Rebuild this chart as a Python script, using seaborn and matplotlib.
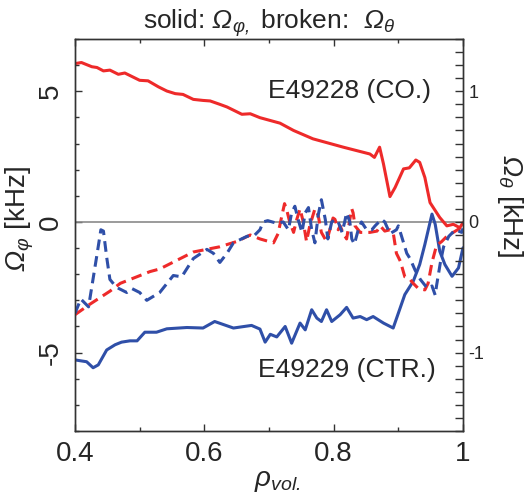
import numpy as np
import pandas as pd
import seaborn as sns
import matplotlib.pyplot as plt

# rho_vol and rotation profiles
# solid lines: toroidal rotation Omega_phi [kHz] (left axis)
x_co_phi = [0.400, 0.410, 0.426, 0.434, 0.444, 0.454, 0.467, 0.477, 0.500, 0.513,
            0.529, 0.542, 0.555, 0.567, 0.583, 0.598, 0.609, 0.624, 0.635, 0.658,
            0.671, 0.686, 0.717, 0.738, 0.768, 0.815, 0.856, 0.863, 0.871, 0.877,
            0.887, 0.895, 0.908, 0.917, 0.927, 0.933, 0.941, 0.949, 0.964, 0.975,
            0.985, 0.995, 1.000]
co_phi = [6.06, 6.10, 5.94, 5.91, 5.78, 5.81, 5.65, 5.70, 5.42, 5.40,
          5.17, 5.01, 4.91, 4.88, 4.69, 4.65, 4.63, 4.50, 4.40, 4.12,
          4.14, 3.99, 3.78, 3.50, 3.18, 2.86, 2.60, 2.47, 2.86, 2.22,
          0.97, 1.32, 2.03, 2.07, 2.37, 2.28, 1.70, 0.74, 0.17, -0.15,
          -0.09, -0.22, -0.03]

x_ctr_phi = [0.400, 0.418, 0.428, 0.436, 0.449, 0.462, 0.472, 0.485, 0.496, 0.508,
             0.526, 0.542, 0.573, 0.598, 0.616, 0.645, 0.673, 0.686, 0.694, 0.702,
             0.712, 0.725, 0.735, 0.748, 0.756, 0.766, 0.774, 0.781, 0.789, 0.797,
             0.810, 0.820, 0.830, 0.841, 0.851, 0.861, 0.877, 0.892, 0.910, 0.923,
             0.933, 0.941, 0.952, 0.957, 0.964, 0.972, 0.983, 0.993, 1.000]
ctr_phi = [-5.28, -5.35, -5.58, -5.47, -4.90, -4.70, -4.60, -4.55, -4.55, -4.22,
           -4.22, -4.09, -4.04, -4.06, -3.81, -4.06, -3.96, -4.10, -4.60, -4.30,
           -4.40, -4.00, -4.64, -3.87, -4.13, -3.36, -3.68, -3.81, -3.36, -3.81,
           -3.55, -3.27, -3.68, -3.62, -3.74, -3.62, -3.87, -4.06, -2.78, -2.27,
           -1.63, -0.86, 0.30, -0.09, -1.12, -1.63, -2.08, -1.76, -0.99]

# broken lines: poloidal rotation Omega_theta [kHz] (right axis)
x_co_theta = [0.400, 0.423, 0.454, 0.470, 0.516, 0.531, 0.583, 0.624, 0.650, 0.671,
              0.686, 0.707, 0.714, 0.720, 0.724, 0.727, 0.732, 0.738, 0.743, 0.748,
              0.753, 0.758, 0.763, 0.771, 0.776, 0.781, 0.789, 0.794, 0.799, 0.802,
              0.807, 0.810, 0.815, 0.820, 0.825, 0.828, 0.830, 0.833, 0.841, 0.856,
              0.867, 0.872, 0.879, 0.887, 0.892, 0.897, 0.903, 0.910, 0.918, 0.923,
              0.931, 0.941, 0.946, 0.952, 0.959, 0.967, 0.975, 0.985, 0.998, 1.000]
co_theta = [-0.71, -0.63, -0.53, -0.47, -0.38, -0.36, -0.23, -0.19, -0.15, -0.10,
            -0.13, -0.16, -0.09, 0.05, 0.14, 0.10, 0.00, -0.08, 0.02, 0.10,
            0.00, -0.15, -0.03, 0.10, 0.05, -0.08, -0.15, -0.06, 0.03, 0.02,
            -0.06, -0.03, -0.09, -0.13, 0.02, 0.10, 0.07, -0.03, -0.08, -0.08,
            -0.07, -0.03, -0.07, -0.06, -0.08, -0.24, -0.30, -0.42, -0.44, -0.47,
            -0.51, -0.52, -0.47, -0.31, -0.18, -0.15, -0.11, -0.08, -0.04, -0.03]

x_ctr_theta = [0.400, 0.409, 0.421, 0.434, 0.440, 0.444, 0.449, 0.454, 0.464, 0.480,
               0.488, 0.500, 0.511, 0.531, 0.552, 0.565, 0.583, 0.604, 0.614, 0.624,
               0.635, 0.645, 0.666, 0.678, 0.686, 0.691, 0.698, 0.705, 0.712, 0.722,
               0.730, 0.735, 0.740, 0.745, 0.751, 0.756, 0.761, 0.766, 0.771, 0.776,
               0.781, 0.787, 0.791, 0.797, 0.802, 0.807, 0.813, 0.817, 0.820, 0.825,
               0.828, 0.832, 0.838, 0.843, 0.851, 0.859, 0.864, 0.874, 0.879, 0.887,
               0.897, 0.900, 0.905, 0.913, 0.918, 0.926, 0.934, 0.942, 0.947, 0.952,
               0.957, 0.959, 0.965, 0.970, 0.978, 0.988, 0.998, 1.000]
ctr_theta = [-0.70, -0.59, -0.65, -0.25, -0.06, -0.07, -0.27, -0.44, -0.50, -0.54,
             -0.51, -0.54, -0.60, -0.54, -0.41, -0.42, -0.28, -0.21, -0.24, -0.31,
             -0.24, -0.16, -0.11, -0.10, -0.06, 0.00, 0.01, 0.00, -0.01, 0.00,
             -0.06, 0.07, 0.12, 0.02, -0.08, 0.07, 0.11, -0.06, -0.16, 0.05,
             0.17, 0.02, -0.13, 0.00, 0.02, 0.00, -0.08, 0.00, 0.07, 0.00,
             -0.13, -0.17, -0.06, 0.00, -0.06, -0.06, -0.03, 0.02, 0.00, -0.09,
             -0.06, -0.03, -0.11, -0.24, -0.28, -0.37, -0.44, -0.49, -0.51, -0.49,
             -0.56, -0.49, -0.31, -0.19, -0.11, -0.06, -0.08, -0.05]

red = "#ee2a2a"
blue = "#2f4fa8"

sns.set_style("ticks")
plt.rcParams['font.family'] = ['Liberation Sans', 'DejaVu Sans']
plt.rcParams['mathtext.fontset'] = 'custom'
plt.rcParams['mathtext.rm'] = 'Liberation Sans:italic'
plt.rcParams['mathtext.it'] = 'Liberation Sans:italic'
plt.rcParams['axes.unicode_minus'] = False

fig = plt.figure(figsize=(5.27, 4.99), dpi=100)
ax = fig.add_axes([0.1423, 0.1363, 0.7363, 0.7855])
ax2 = ax.twinx()

ax.axhline(0, color="#8a8a8a", lw=1.2, zorder=1)

sns.lineplot(x=x_co_phi, y=co_phi, ax=ax, color=red, lw=2.2, sort=False, estimator=None)
sns.lineplot(x=x_ctr_phi, y=ctr_phi, ax=ax, color=blue, lw=2.2, sort=False, estimator=None)
sns.lineplot(x=x_co_theta, y=co_theta, ax=ax2, color=red, lw=2.2, sort=False,
             estimator=None, linestyle=(0, (3.5, 2)))
sns.lineplot(x=x_ctr_theta, y=ctr_theta, ax=ax2, color=blue, lw=2.2, sort=False,
             estimator=None, linestyle=(0, (3.5, 2)))

ax.set_xlim(0.4, 1.0)
ax.set_ylim(-8, 7)
ax2.set_ylim(-1.6, 1.4)

ax.set_xticks([0.4, 0.6, 0.8, 1.0])
ax.set_xticklabels(["0.4", "0.6", "0.8", "1"])
ax.set_xticks(np.arange(0.5, 1.0, 0.2), minor=True)
ax.set_yticks([-5, 0, 5])
ax.set_yticklabels(["-5", "0", "5"], rotation=90, va="center")
ax.set_yticks(np.arange(-8, 8, 1), minor=True)
ax2.set_yticks([-1, 0, 1])
ax2.set_yticklabels(["-1", "0", "1"])
ax2.set_yticks(np.arange(-1.6, 1.45, 0.1), minor=True)

ax.tick_params(axis="x", which="both", direction="in", top=True, bottom=True,
               labelsize=20, pad=7, color="#333333")
ax.tick_params(axis="x", which="major", length=5, width=1)
ax.tick_params(axis="x", which="minor", length=3, width=1)
ax.tick_params(axis="y", which="both", direction="in", left=True, right=False,
               labelsize=20, pad=8, color="#333333")
ax.tick_params(axis="y", which="major", length=5, width=1)
ax.tick_params(axis="y", which="minor", length=3, width=1)
ax2.tick_params(axis="y", which="both", direction="in", right=True, left=False,
                labelsize=13, pad=4, length=6, width=1, color="#333333")

for a in (ax, ax2):
    for s in a.spines.values():
        s.set_linewidth(1.0)
        s.set_color("#333333")

ax.set_xlabel(r"$\rho_{vol.}$", fontsize=20)
ax.xaxis.set_label_coords(0.52, -0.095)
ax.set_ylabel(r"$\Omega_{\varphi}$ [kHz]", fontsize=20)
ax.yaxis.set_label_coords(-0.10, 0.54)
ax2.set_ylabel(r"$\Omega_{\theta}$ [kHz]", fontsize=20, rotation=270, va="center")
ax2.yaxis.set_label_coords(1.12, 0.575)

ax.set_title(r"solid: $\Omega_{\varphi,}$ broken:  $\Omega_{\theta}$", fontsize=19, pad=6)

ax.text(0.698, 4.75, "E49228 (CO.)", fontsize=19, ha="left", va="baseline")
ax.text(0.683, -5.92, "E49229 (CTR.)", fontsize=19, ha="left", va="baseline")

fig.savefig("out.png", dpi=100)
